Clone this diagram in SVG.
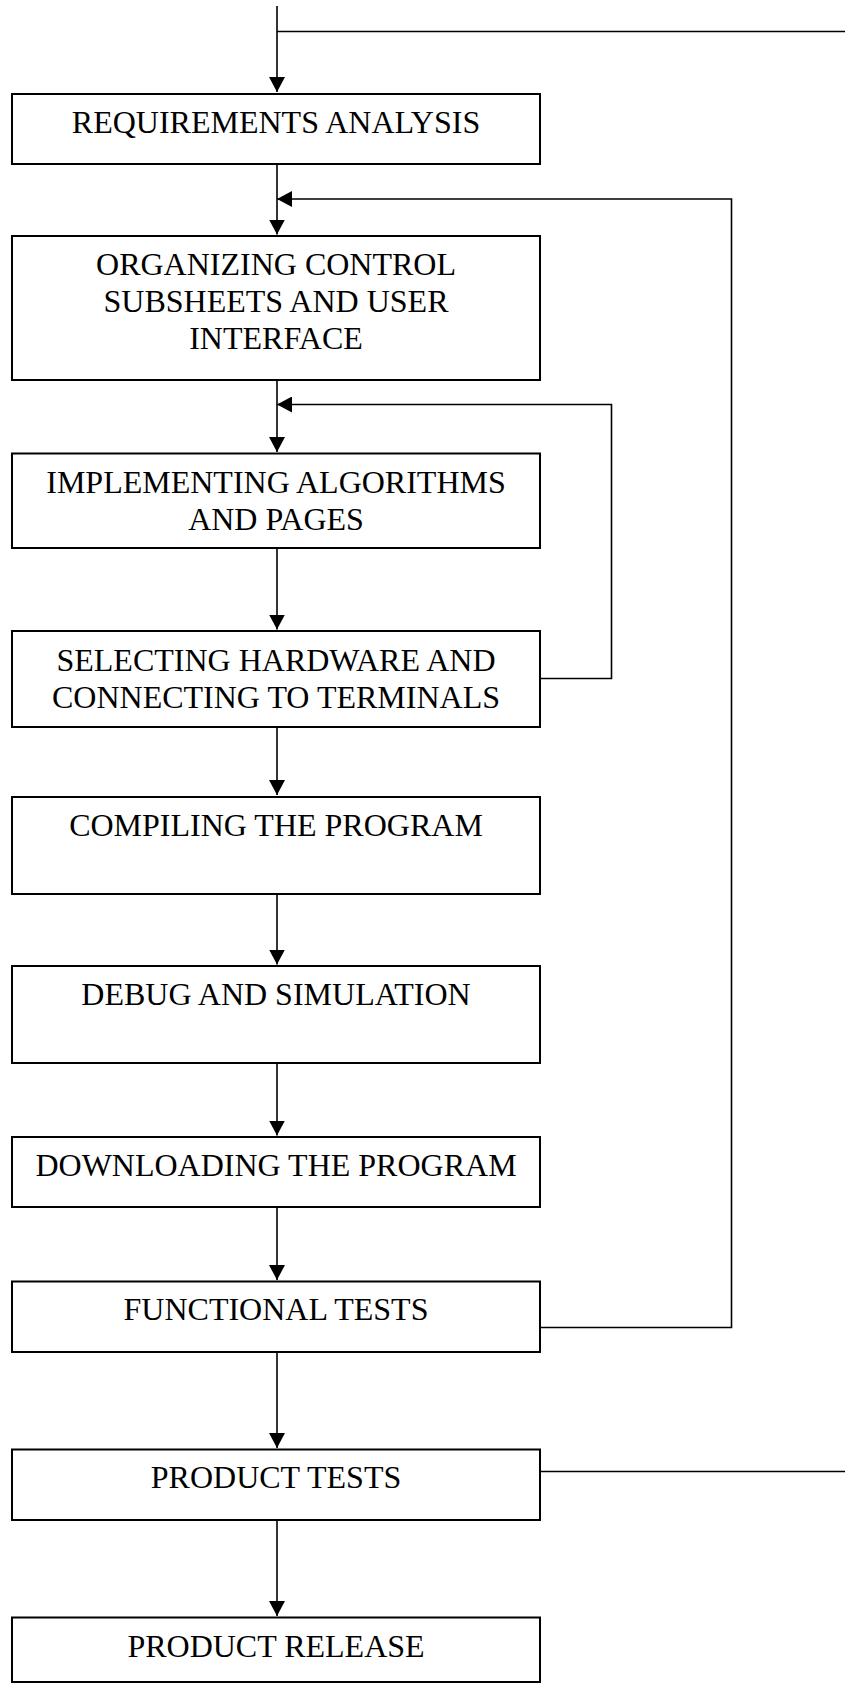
<svg xmlns="http://www.w3.org/2000/svg" width="845" height="1684" viewBox="0 0 845 1684">
  <style>
    .box { fill: #ffffff; stroke: #000000; stroke-width: 2; }
    .lbl { font-family: "Liberation Serif", "Times New Roman", serif; font-size: 32px; fill: #000000; text-anchor: middle; }
    .wire { fill: none; stroke: #000000; stroke-width: 1.6; }
  </style>
  <defs>
    <marker id="arrow" viewBox="0 0 15 16" refX="15" refY="8" markerWidth="15" markerHeight="16" markerUnits="userSpaceOnUse" orient="auto">
      <path d="M0,0 L15,8 L0,16 z" fill="#000000"/>
    </marker>
  </defs>
  <rect width="845" height="1684" fill="#ffffff"/>

  <!-- connectors -->
  <g id="connectors">
    <path class="wire" d="M277,6 V92" marker-end="url(#arrow)"/>
    <path class="wire" d="M277,31.5 H845"/>
    <path class="wire" d="M277,164 V234.5" marker-end="url(#arrow)"/>
    <path class="wire" d="M277,380 V452" marker-end="url(#arrow)"/>
    <path class="wire" d="M277,548 V629.5" marker-end="url(#arrow)"/>
    <path class="wire" d="M277,727 V795" marker-end="url(#arrow)"/>
    <path class="wire" d="M277,894 V964.5" marker-end="url(#arrow)"/>
    <path class="wire" d="M277,1063 V1135.5" marker-end="url(#arrow)"/>
    <path class="wire" d="M277,1207 V1280" marker-end="url(#arrow)"/>
    <path class="wire" d="M277,1352 V1448" marker-end="url(#arrow)"/>
    <path class="wire" d="M277,1520 V1616" marker-end="url(#arrow)"/>
    <!-- feedback: hardware selection back to algorithms -->
    <path class="wire" d="M540,678.5 H611.5 V404.5 H277" marker-end="url(#arrow)"/>
    <!-- feedback: functional tests back to organizing -->
    <path class="wire" d="M540,1327.5 H731.5 V199 H277" marker-end="url(#arrow)"/>
    <!-- product tests loop to the right -->
    <path class="wire" d="M540,1471.5 H845"/>
  </g>

  <g id="requirements">
    <rect class="box" x="12" y="94" width="528" height="70"/>
    <text class="lbl" x="276" y="132.5">REQUIREMENTS ANALYSIS</text>
  </g>
  <g id="organizing">
    <rect class="box" x="12" y="236" width="528" height="144"/>
    <text class="lbl" x="276" y="274.5">ORGANIZING CONTROL</text>
    <text class="lbl" x="276" y="311.5">SUBSHEETS AND USER</text>
    <text class="lbl" x="276" y="348.5">INTERFACE</text>
  </g>
  <g id="implementing">
    <rect class="box" x="12" y="453.5" width="528" height="94.5"/>
    <text class="lbl" x="276" y="492.5">IMPLEMENTING ALGORITHMS</text>
    <text class="lbl" x="276" y="529.5">AND PAGES</text>
  </g>
  <g id="selecting">
    <rect class="box" x="12" y="631" width="528" height="96"/>
    <text class="lbl" x="276" y="670.5">SELECTING HARDWARE AND</text>
    <text class="lbl" x="276" y="707.5">CONNECTING TO TERMINALS</text>
  </g>
  <g id="compiling">
    <rect class="box" x="12" y="797" width="528" height="97"/>
    <text class="lbl" x="276" y="835.5">COMPILING THE PROGRAM</text>
  </g>
  <g id="debug">
    <rect class="box" x="12" y="966" width="528" height="97"/>
    <text class="lbl" x="276" y="1004.5">DEBUG AND SIMULATION</text>
  </g>
  <g id="downloading">
    <rect class="box" x="12" y="1137" width="528" height="70"/>
    <text class="lbl" x="276" y="1175.5">DOWNLOADING THE PROGRAM</text>
  </g>
  <g id="functional">
    <rect class="box" x="12" y="1281.5" width="528" height="70.5"/>
    <text class="lbl" x="276" y="1320">FUNCTIONAL TESTS</text>
  </g>
  <g id="product-tests">
    <rect class="box" x="12" y="1449.5" width="528" height="70.5"/>
    <text class="lbl" x="276" y="1488">PRODUCT TESTS</text>
  </g>
  <g id="product-release">
    <rect class="box" x="12" y="1617.5" width="528" height="64.5"/>
    <text class="lbl" x="276" y="1656.5">PRODUCT RELEASE</text>
  </g>
</svg>
